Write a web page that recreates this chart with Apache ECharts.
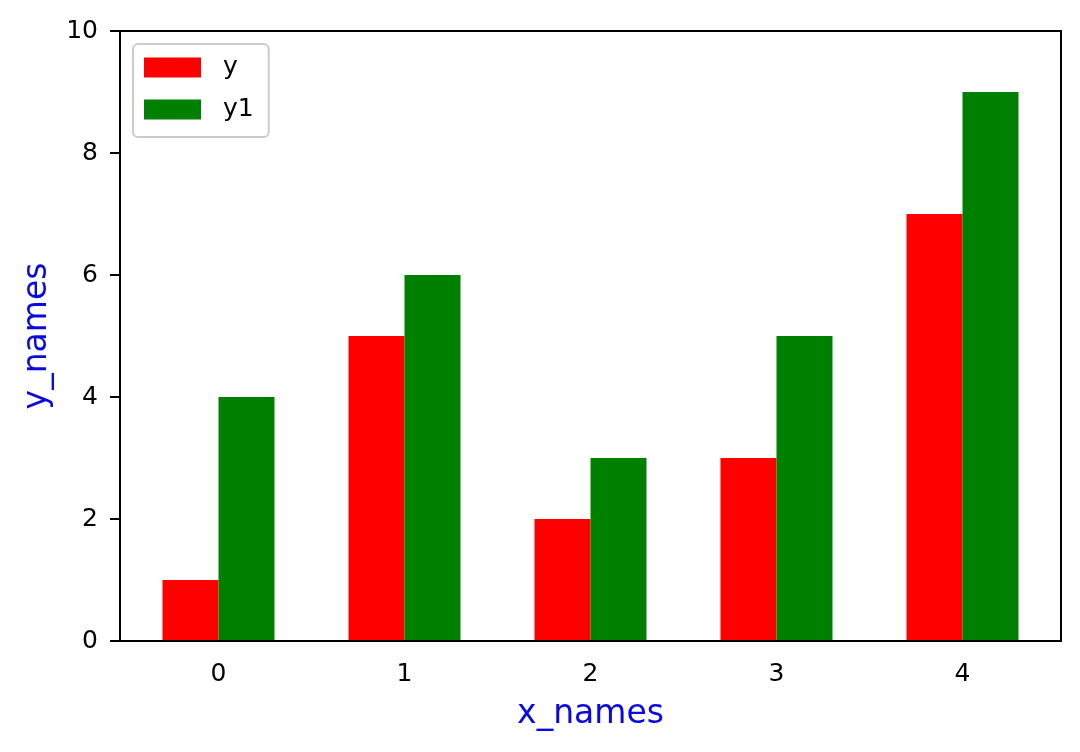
<!DOCTYPE html>
<html>
<head>
<meta charset="utf-8">
<script src="https://cdn.jsdelivr.net/npm/echarts@6/dist/echarts.min.js"></script>
<style>
  html, body { margin: 0; padding: 0; background: #fff; }
  #chart { width: 1080px; height: 752px; }
</style>
</head>
<body>
<div id="chart"></div>
<script>
  var categories = ['0', '1', '2', '3', '4'];
  var yValues = [1, 5, 2, 3, 7];
  var y1Values = [4, 6, 3, 5, 9];
  var seriesNames = ['y', 'y1'];

  var chart = echarts.init(document.getElementById('chart'));
  var font = 'DejaVu Sans';
  var titleColor = '#0a0ae0';

  var option = {
    backgroundColor: '#fff',
    animation: false,
    textStyle: { fontFamily: font },
    // frame of the axes, matplotlib style
    graphic: [{
      type: 'rect',
      shape: { x: 120, y: 31, width: 941, height: 610 },
      style: { fill: 'none', stroke: '#000', lineWidth: 2 },
      z: 10
    }],
    legend: {
      orient: 'vertical',
      left: 133,
      top: 44,
      padding: [11, 15, 15, 11],
      itemWidth: 57,
      itemHeight: 20,
      itemGap: 17,
      borderColor: '#cccccc',
      borderWidth: 2,
      borderRadius: 5,
      backgroundColor: 'rgba(255,255,255,0.8)',
      icon: 'rect',
      textStyle: { fontSize: 25, color: '#000', fontFamily: font, padding: [0, 0, 0, 17] },
      data: seriesNames
    },
    grid: { left: 125.5, right: 24.5, top: 31, bottom: 111 },
    xAxis: {
      type: 'category',
      data: categories,
      axisLine: { show: false },
      axisTick: { alignWithLabel: true, length: 10, lineStyle: { color: '#000', width: 2 } },
      axisLabel: { fontSize: 25, color: '#000', margin: 21, fontFamily: font },
      name: 'x_names',
      nameLocation: 'middle',
      nameGap: 57,
      nameTextStyle: { fontSize: 33, color: titleColor, fontFamily: font }
    },
    yAxis: {
      type: 'value',
      min: 0,
      max: 10,
      interval: 2,
      offset: 5.5,
      axisLine: { show: false },
      axisTick: { show: true, length: 10, lineStyle: { color: '#000', width: 2 } },
      splitLine: { show: false },
      axisLabel: { fontSize: 25, color: '#000', margin: 22, fontFamily: font },
      name: 'y_names',
      nameLocation: 'middle',
      nameGap: 66,
      nameTextStyle: { fontSize: 33, color: titleColor, fontFamily: font }
    },
    series: [
      {
        name: seriesNames[0],
        type: 'bar',
        barWidth: 56,
        barGap: '0%',
        itemStyle: { color: '#ff0000' },
        data: yValues
      },
      {
        name: seriesNames[1],
        type: 'bar',
        barWidth: 56,
        barGap: '0%',
        itemStyle: { color: '#008000' },
        data: y1Values
      }
    ]
  };

  chart.setOption(option);
</script>
</body>
</html>
